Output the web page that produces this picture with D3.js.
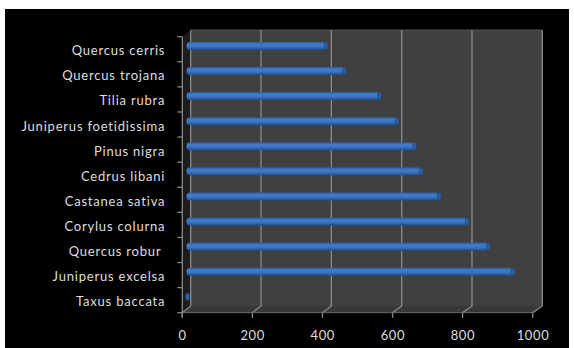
<!DOCTYPE html>
<html>
<head>
<meta charset="utf-8">
<script src="https://cdn.jsdelivr.net/npm/d3@7"></script>
<style>
  html, body { margin: 0; padding: 0; background: #ffffff; }
  svg { display: block; }
  text { font-family: Lato, "Open Sans", sans-serif; fill: #dedede; }
</style>
</head>
<body>
<svg id="chart" width="574" height="348"></svg>
<script>
// Tree species and their values (top to bottom)
const species = [
  "Quercus cerris", "Quercus trojana", "Tilia rubra", "Juniperus foetidissima",
  "Pinus nigra", "Cedrus libani", "Castanea sativa", "Corylus colurna",
  "Quercus robur ", "Juniperus excelsa", "Taxus baccata"
];
const values = [398, 450, 550, 600, 650, 668, 720, 800, 860, 930, 3];
const xTicks = [0, 200, 400, 600, 800, 1000];

const svg = d3.select("#chart");

// Black chart area
svg.append("rect").attr("x", 5).attr("y", 9).attr("width", 564).attr("height", 339).attr("fill", "#000");

// 3D box: front plane and back plane share the same domain
const xFront = d3.scaleLinear().domain([0, 1000]).range([182.3, 532.7]);
const xBack  = d3.scaleLinear().domain([0, 1000]).range([190.7, 542.3]);
const xMid   = d3.scaleLinear().domain([0, 1000]).range([186.5, 537.5]);
const yFront = d3.scaleBand().domain(species).range([36.7, 312.7]);
const yBack  = d3.scaleBand().domain(species).range([30, 306]);
const depthDy = yBack.range()[0] - yFront.range()[0];

const top0 = yBack.range()[0], bot0 = yBack.range()[1];
const fTop = yFront.range()[0], fBot = yFront.range()[1];

// Back wall
svg.append("rect")
  .attr("x", xBack(0)).attr("y", top0)
  .attr("width", xBack(1000) - xBack(0)).attr("height", bot0 - top0)
  .attr("fill", "#404040");

// Left side wall
svg.append("path")
  .attr("d", `M${xFront(0)},${fTop} L${xBack(0)},${top0} L${xBack(0)},${bot0} L${xFront(0)},${fBot} Z`)
  .attr("fill", "#1c1c1c");

// Floor
svg.append("path")
  .attr("d", `M${xBack(0)},${bot0} L${xBack(1000)},${bot0} L${xFront(1000)},${fBot} L${xFront(0)},${fBot} Z`)
  .attr("fill", "#383838");

// Top edge of the back wall
svg.append("line")
  .attr("x1", xBack(0)).attr("x2", xBack(1000)).attr("y1", top0).attr("y2", top0)
  .attr("stroke", "#4e4e4e").attr("stroke-width", 1);

// Gridlines: up the back wall, then across the floor to the front axis
const grid = svg.append("g").attr("fill", "none").attr("stroke", "#8a8a8a").attr("stroke-width", 1.3);
xTicks.forEach(v => {
  grid.append("path")
    .attr("d", `M${xBack(v)},${top0} L${xBack(v)},${bot0} L${xFront(v)},${fBot} L${xFront(v)},${fBot + 5}`);
});

// Front edge of floor and left axis line
const axisCol = "#8a8a8a";
svg.append("line")
  .attr("x1", xFront(0)).attr("x2", xFront(1000)).attr("y1", fBot).attr("y2", fBot)
  .attr("stroke", "#6a6a6a").attr("stroke-width", 1);
svg.append("line")
  .attr("x1", xFront(0)).attr("x2", xFront(0)).attr("y1", fTop).attr("y2", fBot + 5)
  .attr("stroke", axisCol).attr("stroke-width", 1.3);

// Category ticks at band boundaries
const bounds = species.map(s => yFront(s)).concat([fBot]);
svg.append("g").selectAll("line").data(bounds).join("line")
  .attr("x1", xFront(0) - 5).attr("x2", xFront(0))
  .attr("y1", d => d).attr("y2", d => d)
  .attr("stroke", axisCol).attr("stroke-width", 1.3);

// Bar gradient (cylinder shading)
const defs = svg.append("defs");
const grad = defs.append("linearGradient").attr("id", "barGrad")
  .attr("x1", 0).attr("y1", 0).attr("x2", 0).attr("y2", 1);
[[0, "#2a5b9c"], [0.3, "#427bc8"], [0.6, "#3b74c2"], [1, "#214c86"]].forEach(([o, c]) =>
  grad.append("stop").attr("offset", o).attr("stop-color", c));

// Bars at mid depth
const barH = 8;
const bars = svg.append("g");
species.forEach((s, i) => {
  const cy = yFront(s) + yFront.bandwidth() / 2 + depthDy / 2;
  const x0 = xMid(0), x1 = xMid(values[i]);
  bars.append("rect")
    .attr("x", x0).attr("y", cy - barH / 2)
    .attr("width", Math.max(x1 - x0, 0.5)).attr("height", barH)
    .attr("rx", 3).attr("ry", 4)
    .attr("fill", "url(#barGrad)");
  bars.append("ellipse")
    .attr("cx", x1).attr("cy", cy)
    .attr("rx", 2).attr("ry", barH / 2 - 0.3)
    .attr("fill", "#2d5e9f").attr("stroke", "#1f477e").attr("stroke-width", 0.7);
});

// Category labels
svg.append("g").selectAll("text").data(species).join("text")
  .attr("x", 165.3)
  .attr("y", d => yFront(d) + yFront.bandwidth() / 2 + 1)
  .attr("text-anchor", "end")
  .attr("dominant-baseline", "central")
  .attr("letter-spacing", 0.8)
  .style("white-space", "pre")
  .attr("font-size", 13)
  .text(d => d);

// Value axis labels
svg.append("g").selectAll("text").data(xTicks).join("text")
  .attr("x", d => xFront(d) + 0.3)
  .attr("y", 339.5)
  .attr("text-anchor", "middle")
  .attr("letter-spacing", 0.6)
  .attr("font-size", 13)
  .text(d => d);
</script>
</body>
</html>
